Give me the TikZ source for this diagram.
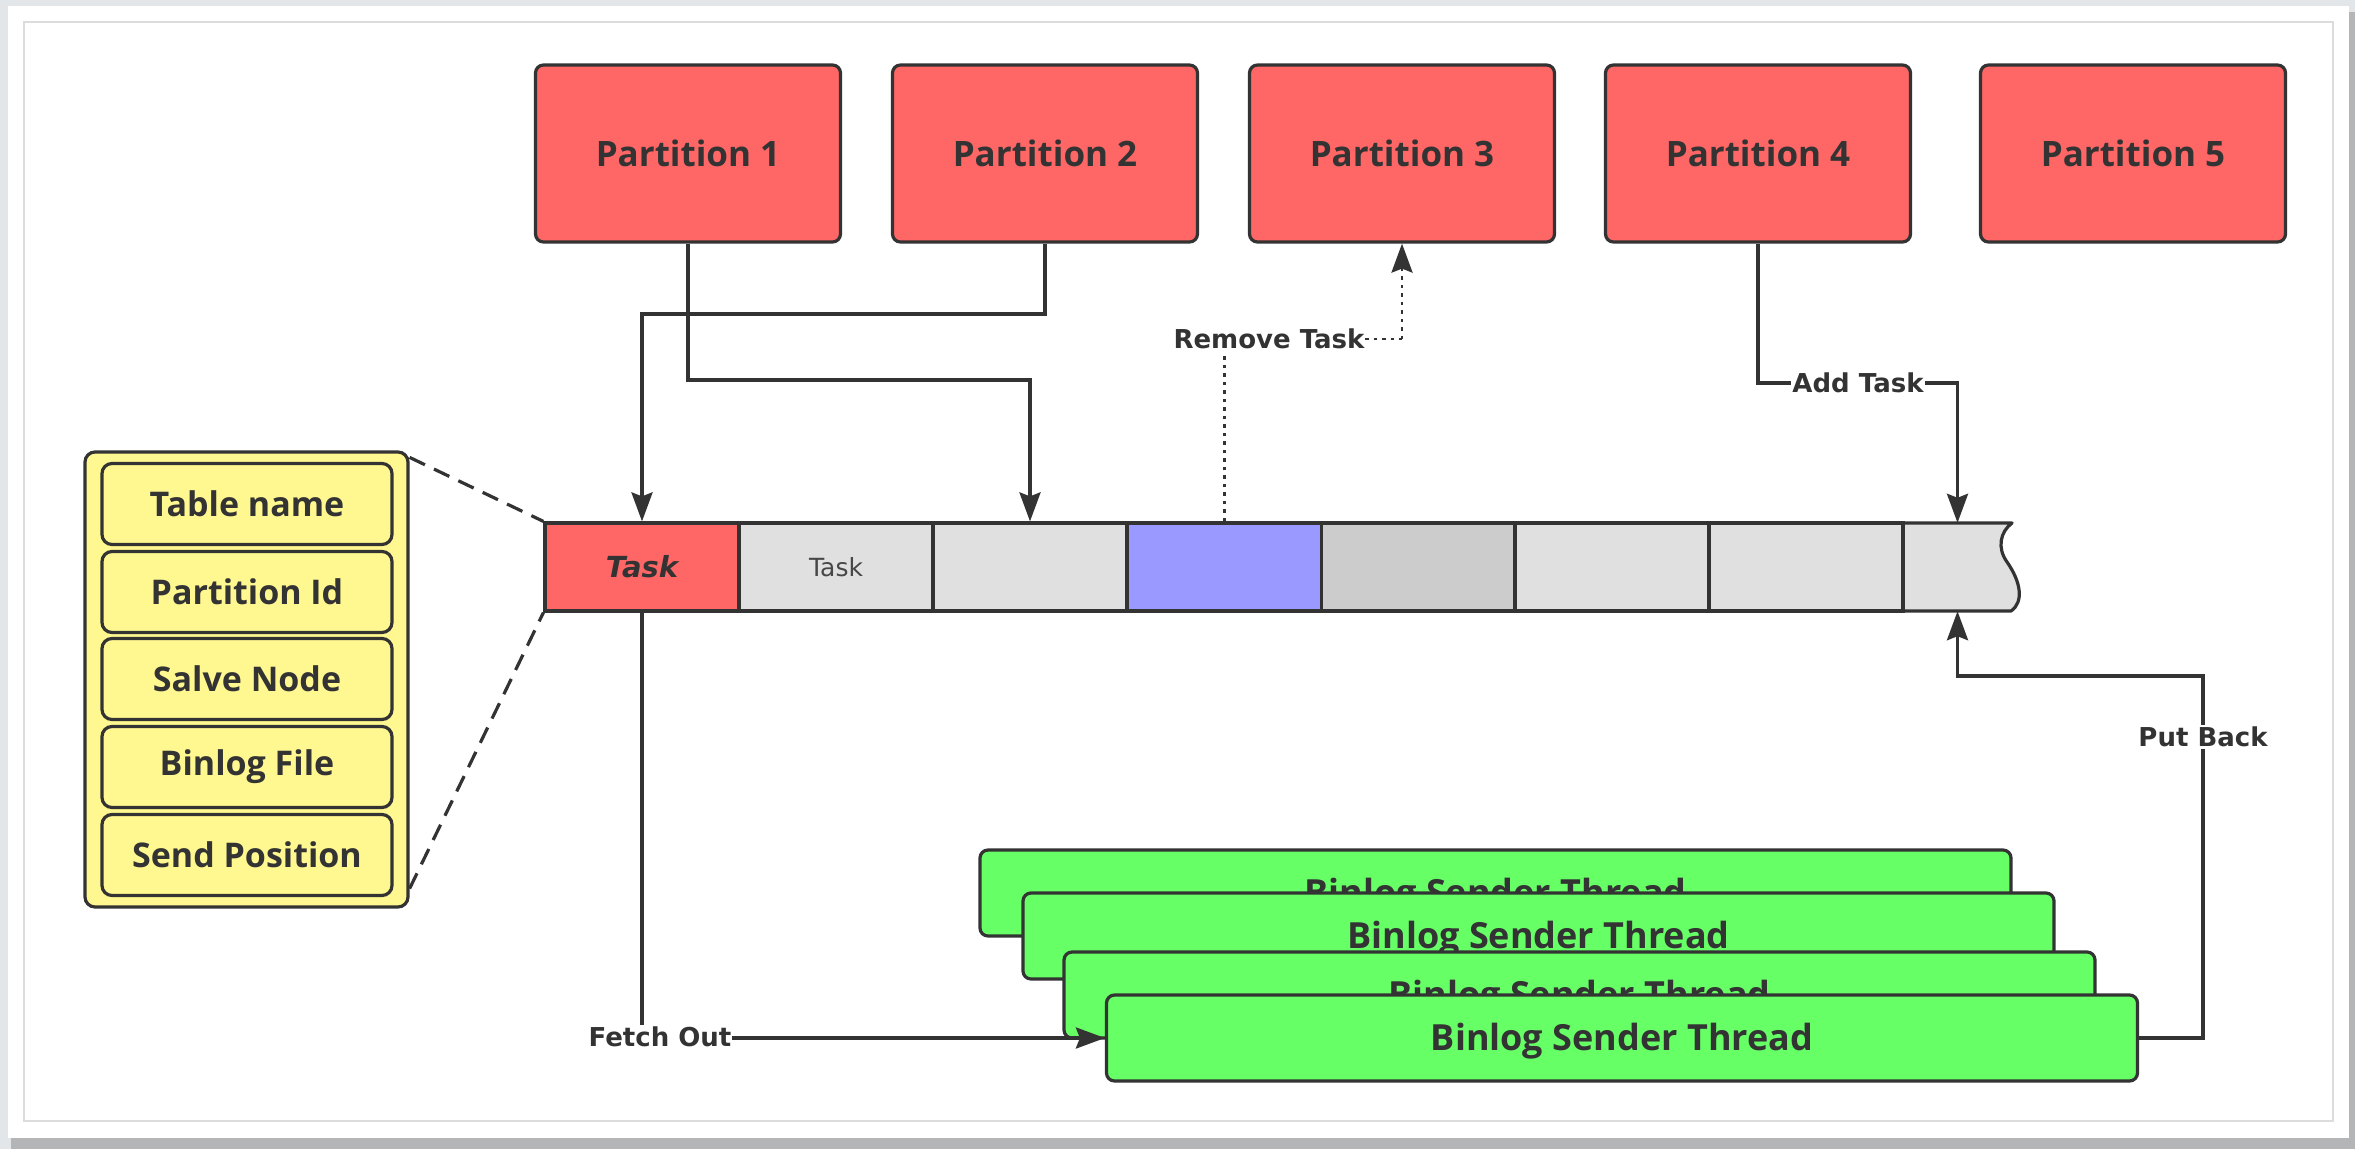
\documentclass[tikz,border=0pt]{standalone}
\usepackage{fontspec}
\usetikzlibrary{calc,arrows.meta}
\newfontfamily\osans{Open Sans}
\newfontfamily\dvsans{DejaVu Sans}
\definecolor{ink}{HTML}{333333}
\definecolor{partred}{HTML}{FF6666}
\definecolor{thrgreen}{HTML}{66FF66}
\definecolor{fieldyel}{HTML}{FFF78F}
\definecolor{cellgrey}{HTML}{E0E0E0}
\definecolor{celldark}{HTML}{CCCCCC}
\definecolor{cellblue}{HTML}{9999FF}
\definecolor{pagebg}{HTML}{E3E6E9}
\definecolor{cardshade}{HTML}{B3B5B7}
\definecolor{framegrey}{HTML}{DCDCDC}
\tikzset{
  boxfont/.style={font=\osans\bfseries\fontsize{35pt}{40pt}\selectfont, text=ink},
  part/.style={boxfont, draw=ink, fill=partred, line width=3.2pt, rounded corners=8pt,
    minimum width=305pt, minimum height=177pt, inner sep=0pt},
  cell/.style={draw=ink, fill=cellgrey, line width=3.2pt, minimum width=194pt,
    minimum height=88pt, inner sep=0pt},
  field/.style={font=\osans\bfseries\fontsize{34pt}{40pt}\selectfont, text=ink,
    draw=ink, fill=fieldyel, line width=3.2pt, rounded corners=10pt,
    minimum width=290pt, minimum height=81pt, inner sep=0pt},
  thread/.style={font=\osans\bfseries\fontsize{36pt}{40pt}\selectfont, text=ink,
    draw=ink, fill=thrgreen, line width=3.2pt, rounded corners=8pt,
    minimum width=1031pt, minimum height=86pt, inner sep=0pt,
    text height=25.7pt, text depth=0pt},
  lbl/.style={font=\dvsans\bfseries\fontsize{26pt}{30pt}\selectfont, text=ink,
    fill=white, inner xsep=1pt, inner ysep=2pt},
  conn/.style={draw=ink, line width=3.4pt,
    -{Stealth[length=29pt,width=21pt,inset=4pt]}},
  dotconn/.style={draw=ink, line width=2.8pt, dash pattern=on 3.5pt off 5pt,
    -{Stealth[length=29pt,width=21pt,inset=4pt]}},
  dotline/.style={draw=ink, line width=2.8pt, dash pattern=on 3.5pt off 5pt},
  zoomline/.style={draw=ink, line width=3.2pt, dash pattern=on 17pt off 10pt},
}
\begin{document}
\begin{tikzpicture}[x=1pt,y=-1pt]
\useasboundingbox (0,0) rectangle (2355,1149);
% page, card and its frame
\fill[pagebg] (0,0) rectangle (2355,1149);
\fill[cardshade] (11,12) rectangle (2355,1149);
\fill[white] (8,6) rectangle (2349,1138);
\draw[framegrey, line width=2pt] (24,22) rectangle (2333,1121);

% partitions
\node[part] (p1) at (688,153.5) {Partition 1};
\node[part] (p2) at (1045,153.5) {Partition 2};
\node[part] (p3) at (1402,153.5) {Partition 3};
\node[part] (p4) at (1758,153.5) {Partition 4};
\node[part] (p5) at (2133,153.5) {Partition 5};

% task queue
\node[minimum width=109pt, minimum height=88pt, inner sep=0pt] (c8) at (1957.5,567) {};
\filldraw[fill=cellgrey, draw=ink, line width=3.2pt, line join=round]
  (1903,523) -- (2012,523)
  .. controls (2000,532) and (1997,548) .. (2007,562)
  .. controls (2021,582) and (2024,602) .. (2011,611)
  -- (1903,611) -- cycle;
\node[cell, fill=partred, font=\dvsans\bfseries\itshape\fontsize{29pt}{34pt}\selectfont, text=ink] (c1) at (642,567) {Task};
\node[cell, font=\dvsans\fontsize{25pt}{30pt}\selectfont, text=ink!90] (c2) at (836,567) {Task};
\node[cell] (c3) at (1030,567) {};
\node[cell, fill=cellblue] (c4) at (1224.5,567) {};
\node[cell, fill=celldark] (c5) at (1418.5,567) {};
\node[cell] (c6) at (1612,567) {};
\node[cell] (c7) at (1806,567) {};

% task fields
\node[draw=ink, fill=fieldyel, line width=3.2pt, rounded corners=10pt,
  minimum width=323pt, minimum height=455pt, inner sep=0pt] (yc) at (246.5,679.5) {};
\node[field] (f1) at (247,504) {Table name};
\node[field] (f2) at (247,592) {Partition Id};
\node[field] (f3) at (247,679) {Salve Node};
\node[field] (f4) at (247,767) {Binlog File};
\node[field] (f5) at (247,855) {Send Position};
\draw[zoomline] ($(yc.north east)+(0,7)$) -- (c1.north west);
\draw[zoomline] ($(yc.south east)+(0,-20)$) -- (c1.south west);

% sender threads
\node[thread] (t1) at (1495.5,893) {Binlog Sender Thread};
\node[thread] (t2) at (1538.5,936) {Binlog Sender Thread};
\node[thread] (t3) at (1579.5,995) {Binlog Sender Thread};
\node[thread] (t4) at (1622,1038) {Binlog Sender Thread};

% connectors
\draw[conn] (p1.south) -- (p1.south |- 0,380) -| (c3.north);
\draw[conn] (p2.south) -- (p2.south |- 0,314) -| (c1.north);
\draw[dotline] (c4.north) -- (c4.north |- 0,339) -- (p3.south |- 0,339);
\draw[dotconn] (p3.south |- 0,339) -- (p3.south);
\node[lbl] (lrm) at (1269,339) {Remove Task};
\draw[conn] (p4.south) -- (p4.south |- 0,383) -| (c8.north);
\node[lbl] (ladd) at (1858,383) {Add Task};
\coordinate (pb) at (2203,676);
\draw[conn] (t4.east) -| (pb) -| (c8.south);
\node[lbl] (lpb) at (2203,737) {Put Back};
\draw[conn] (c1.south) |- (t4.west);
\node[lbl] (lfo) at (660,1037) {Fetch Out};
\end{tikzpicture}
\end{document}
